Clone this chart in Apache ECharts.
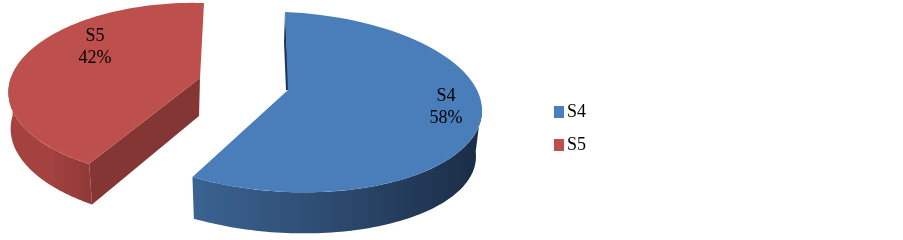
<!DOCTYPE html>
<html><head><meta charset="utf-8">
<style>html,body{margin:0;padding:0;background:#fff}#c{width:903px;height:240px;filter:blur(0.4px)}</style>
<script src="https://cdn.jsdelivr.net/npm/echarts@6/dist/echarts.min.js"></script>
</head><body><div id="c"></div>
<script>
const categories = ['S4', 'S5'];
const shares = [58, 42];

const total = shares.reduce((a, b) => a + b, 0);
const angles = { S4: [0, shares[0] / total * 360], S5: [shares[0] / total * 360, 360] };

// Drawing layout of the tilted disc for each slice (no values here)
const layout = {
  S4: {
    top: { cx: 286, cy: 102, a: 196, b: 90, sx: -1, sy: 8 },
    bottom: { cx: 285, cy: 148, a: 191, b: 85, sx: -1, sy: 8 },
    apex: [288, 90], wallFrom: 208.8, wallTo: 87,
    fill: '#4a7ebb', label: [446, 107],
    wall: ['#3a6391', '#2d4a6f', '#1b2e48'], wallX: [193, 475],
    inner: '#1f3552'
  },
  S5: {
    top: { cx: 189, cy: 90, a: 180, b: 87, sx: 15, sy: 5 },
    bottom: { cx: 187, cy: 133, a: 176, b: 87, sx: 11.6, sy: 10 },
    apex: [200, 78], wallFrom: 208.8, wallTo: 275,
    fill: '#bd4f4c', label: [95, 47],
    wall: ['#a3423f', '#a3423f', '#8f3937'], wallX: [10, 92],
    inner: '#833634'
  }
};

function pt(e, deg) {
  const t = deg * Math.PI / 180, s = Math.sin(t), c = Math.cos(t);
  return [e.cx + e.a * s + e.sx * c, e.cy - e.b * c + e.sy * s];
}
function arc(e, from, to) {
  const out = [], n = 80;
  for (let i = 0; i <= n; i++) out.push(pt(e, from + (to - from) * i / n));
  return out;
}

function renderSlice(name) {
  return function () {
    const L = layout[name], [a0, a1] = angles[name];
    const kids = [];
    const topArc = arc(L.top, a0, a1);
    const lowPt = name === 'S4' ? pt(L.top, a1) : pt(L.top, a0);
    const lowBottom = name === 'S4' ? pt(L.bottom, a1) : pt(L.bottom, a0);

    if (name === 'S5') {
      kids.push({ type: 'polygon', shape: { points: [L.apex, lowPt, lowBottom, [L.apex[0] - 1, L.apex[1] + 38]] },
        style: { fill: L.inner } });
    } else {
      const startPt = pt(L.top, a0);
      kids.push({ type: 'polygon', shape: { points: [startPt, [L.apex[0] + 1, L.apex[1]], [L.apex[0] - 2, L.apex[1]], [startPt[0] - 1, startPt[1] + 30]] },
        style: { fill: L.inner } });
    }
    const wallTop = arc(L.top, L.wallFrom, L.wallTo);
    const wallBottom = arc(L.bottom, L.wallTo, L.wallFrom);
    kids.push({ type: 'polygon', shape: { points: wallTop.concat(wallBottom) },
      style: { fill: { type: 'linear', x: L.wallX[0], y: 0, x2: L.wallX[1], y2: 0, global: true,
        colorStops: [{ offset: 0, color: L.wall[0] }, { offset: 0.5, color: L.wall[1] }, { offset: 1, color: L.wall[2] }] } } });
    kids.push({ type: 'polygon', shape: { points: [L.apex].concat(topArc) }, style: { fill: L.fill } });
    const i = categories.indexOf(name);
    kids.push({ type: 'text', x: L.label[0], y: L.label[1], style: {
      text: name + '\n' + shares[i] + '%', fill: '#000', align: 'center', verticalAlign: 'middle',
      font: '18px "Liberation Serif"', lineHeight: 22 } });
    return { type: 'group', children: kids };
  };
}

const chart = echarts.init(document.getElementById('c'), null, { renderer: 'canvas' });
chart.setOption({
  animation: false,
  backgroundColor: '#fff',
  legend: {
    data: categories, orient: 'vertical', left: 554, top: 103, padding: 0,
    itemWidth: 10, itemHeight: 12, itemGap: 15, icon: 'rect',
    textStyle: { fontFamily: 'Liberation Serif', fontSize: 18, color: '#000', padding: [0, 0, 0, -2] }
  },
  series: [
    { type: 'custom', name: 'S5', coordinateSystem: 'none', color: '#bd4f4c', data: [shares[1]], renderItem: renderSlice('S5'), silent: true, z: 1 },
    { type: 'custom', name: 'S4', coordinateSystem: 'none', color: '#4a7ebb', data: [shares[0]], renderItem: renderSlice('S4'), silent: true, z: 2 }
  ]
});
</script></body></html>
